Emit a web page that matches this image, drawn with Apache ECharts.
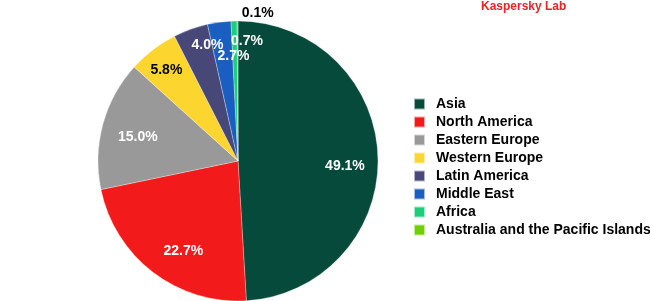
<!DOCTYPE html>
<html>
<head>
<meta charset="utf-8">
<script src="https://cdn.jsdelivr.net/npm/echarts@6/dist/echarts.min.js"></script>
<style>html,body{margin:0;padding:0;background:#fff;}#c{width:650px;height:301px;}</style>
</head>
<body>
<div id="c"></div>
<script>
var categories = ['Asia', 'North America', 'Eastern Europe', 'Western Europe', 'Latin America', 'Middle East', 'Africa', 'Australia and the Pacific Islands'];
var values = [49.1, 22.7, 15.0, 5.8, 4.0, 2.7, 0.7, 0.1];
var colors = ['#064a3c', '#f21a1a', '#999999', '#fdd52f', '#474878', '#1b5ec2', '#19cf7c', '#6fcf00'];
// label adjustments (placement and colour only)
var labelTweaks = {
  0: {offset: [-1, 8]},
  1: {offset: [11, 4]},
  2: {offset: [4, 4]},
  3: {offset: [-6, -5], color: '#000'},
  4: {offset: [6, -14]},
  5: {offset: [10, 2]},
  6: {offset: [12, -12]},
  7: {offset: [20, -40], color: '#000'}
};

var chart = echarts.init(document.getElementById('c'), null, {renderer: 'canvas'});
var center = [238, 161];

var mainData = categories.map(function (n, i) {
  return {name: n, value: values[i], itemStyle: {color: colors[i]}};
});
var labelData = categories.map(function (n, i) {
  var lab = {show: true};
  if (labelTweaks[i]) {
    for (var k in labelTweaks[i]) lab[k] = labelTweaks[i][k];
  }
  return {name: n, value: values[i], itemStyle: {color: 'rgba(0,0,0,0)'}, label: lab};
});

chart.setOption({
  animation: false,
  color: colors,
  graphic: [{
    type: 'text', left: 481, top: 1,
    style: {text: 'Kaspersky Lab', fill: '#ee2228', font: 'bold 12px "Liberation Sans", Arial, sans-serif'}
  }],
  legend: {
    orient: 'vertical',
    left: 413,
    top: 97,
    padding: 0,
    itemWidth: 11,
    itemHeight: 11,
    itemGap: 4,
    icon: 'rect',
    data: categories,
    selectedMode: false,
    textStyle: {
      fontFamily: '"Liberation Sans", Arial, sans-serif',
      fontWeight: 'bold',
      fontSize: 14,
      lineHeight: 11,
      color: '#000',
      padding: [0, 0, 0, 6]
    }
  },
  series: [{
    type: 'pie',
    center: center,
    radius: 140,
    startAngle: 90,
    clockwise: true,
    data: mainData,
    label: {show: false},
    labelLine: {show: false},
    itemStyle: {borderColor: 'rgba(255,255,255,0.6)', borderWidth: 0.5},
    emphasis: {disabled: true},
    silent: true
  }, {
    type: 'pie',
    center: center,
    radius: [70, 140],
    startAngle: 90,
    clockwise: true,
    avoidLabelOverlap: false,
    labelLayout: {hideOverlap: false},
    data: labelData,
    label: {
      show: true,
      position: 'inside',
      formatter: function (p) { return p.value.toFixed(1) + '%'; },
      color: '#fff',
      fontFamily: '"Liberation Sans", Arial, sans-serif',
      fontWeight: 'bold',
      fontSize: 14
    },
    labelLine: {show: false},
    emphasis: {disabled: true},
    silent: true
  }]
});
</script>
</body>
</html>
